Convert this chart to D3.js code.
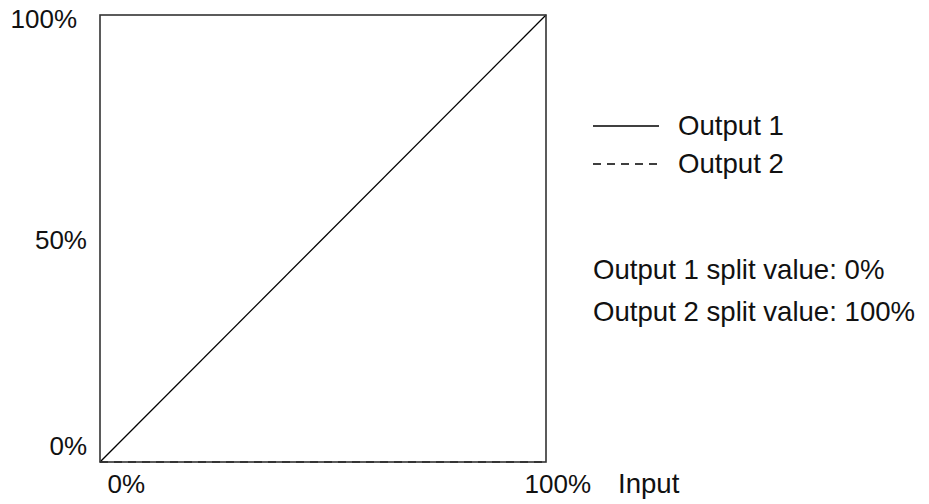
<!DOCTYPE html>
<html>
<head>
<meta charset="utf-8">
<script src="https://cdn.jsdelivr.net/npm/d3@7"></script>
<style>
  body { margin: 0; background: #fff; }
  svg text { font-family: "Liberation Sans", Arial, sans-serif; font-size: 26px; fill: #111; }
  svg text.big { font-size: 27.6px; }
</style>
</head>
<body>
<div id="graph"></div>
<script>
var inputs = [0, 1];
var output1 = [0, 1];
var output2 = [0, 0];
var tickValues = [0, 0.5, 1];
var tickLabels = ["0%", "50%", "100%"];
var seriesNames = ["Output 1", "Output 2"];
var splitValues = ["0%", "100%"];

var width = 929, height = 504;

var svg = d3.select("#graph").append("svg")
  .attr("width", width)
  .attr("height", height);

var x = d3.scaleLinear().domain([0, 1]).range([100, 546]);
var y = d3.scaleLinear().domain([0, 1]).range([462, 15]);

var line = d3.line()
  .x(function(d) { return x(d[0]); })
  .y(function(d) { return y(d[1]); });

var series = [
  { name: seriesNames[0], pts: d3.zip(inputs, output1), dash: null },
  { name: seriesNames[1], pts: d3.zip(inputs, output2), dash: "8 6" }
];

// lines first, frame over them (output 2 sits under the bottom edge)
svg.selectAll("path.series")
  .data(series)
  .enter().append("path")
  .attr("class", "series")
  .attr("d", function(d) { return line(d.pts); })
  .attr("fill", "none")
  .attr("stroke", "#000")
  .attr("stroke-width", 1.3)
  .attr("stroke-dasharray", function(d) { return d.dash; });

svg.append("rect")
  .attr("x", x(0))
  .attr("y", y(1))
  .attr("width", x(1) - x(0))
  .attr("height", y(0) - y(1))
  .attr("fill", "none")
  .attr("stroke", "#333")
  .attr("stroke-width", 1.6);

// y tick labels (the end ones are pulled inside the frame)
svg.selectAll("text.ylab")
  .data(tickValues)
  .enter().append("text")
  .attr("class", "ylab")
  .attr("text-anchor", "end")
  .attr("x", function(d) { return d == 1 ? 77 : 87; })
  .attr("y", function(d) { return y(d); })
  .attr("dy", function(d) { return d == 1 ? 13 : d == 0 ? -7 : 10.5; })
  .text(function(d, i) { return tickLabels[i]; });

// x tick labels (only ends)
svg.selectAll("text.xlab")
  .data([0, 1])
  .enter().append("text")
  .attr("class", "xlab")
  .attr("text-anchor", "end")
  .attr("x", function(d) { return x(d) + 45; })
  .attr("y", 493)
  .text(function(d) { return tickLabels[tickValues.indexOf(d)]; });

svg.append("text")
  .attr("class", "big")
  .attr("x", 618)
  .attr("y", 493)
  .text("Input");

// legend
var leg = svg.selectAll("g.leg")
  .data(series)
  .enter().append("g")
  .attr("class", "leg")
  .attr("transform", function(d, i) { return "translate(593," + (126 + i * 38) + ")"; });

leg.append("line")
  .attr("x1", 0).attr("x2", 66)
  .attr("stroke", "#000")
  .attr("stroke-width", 1.3)
  .attr("stroke-dasharray", function(d) { return d.dash; });

leg.append("text")
  .attr("class", "big")
  .attr("x", 85)
  .attr("y", 9)
  .text(function(d) { return d.name; });

svg.selectAll("text.split")
  .data(splitValues)
  .enter().append("text")
  .attr("class", "split big")
  .attr("x", 593)
  .attr("y", function(d, i) { return 279 + i * 42; })
  .text(function(d, i) { return seriesNames[i] + " split value: " + d; });
</script>
</body>
</html>
